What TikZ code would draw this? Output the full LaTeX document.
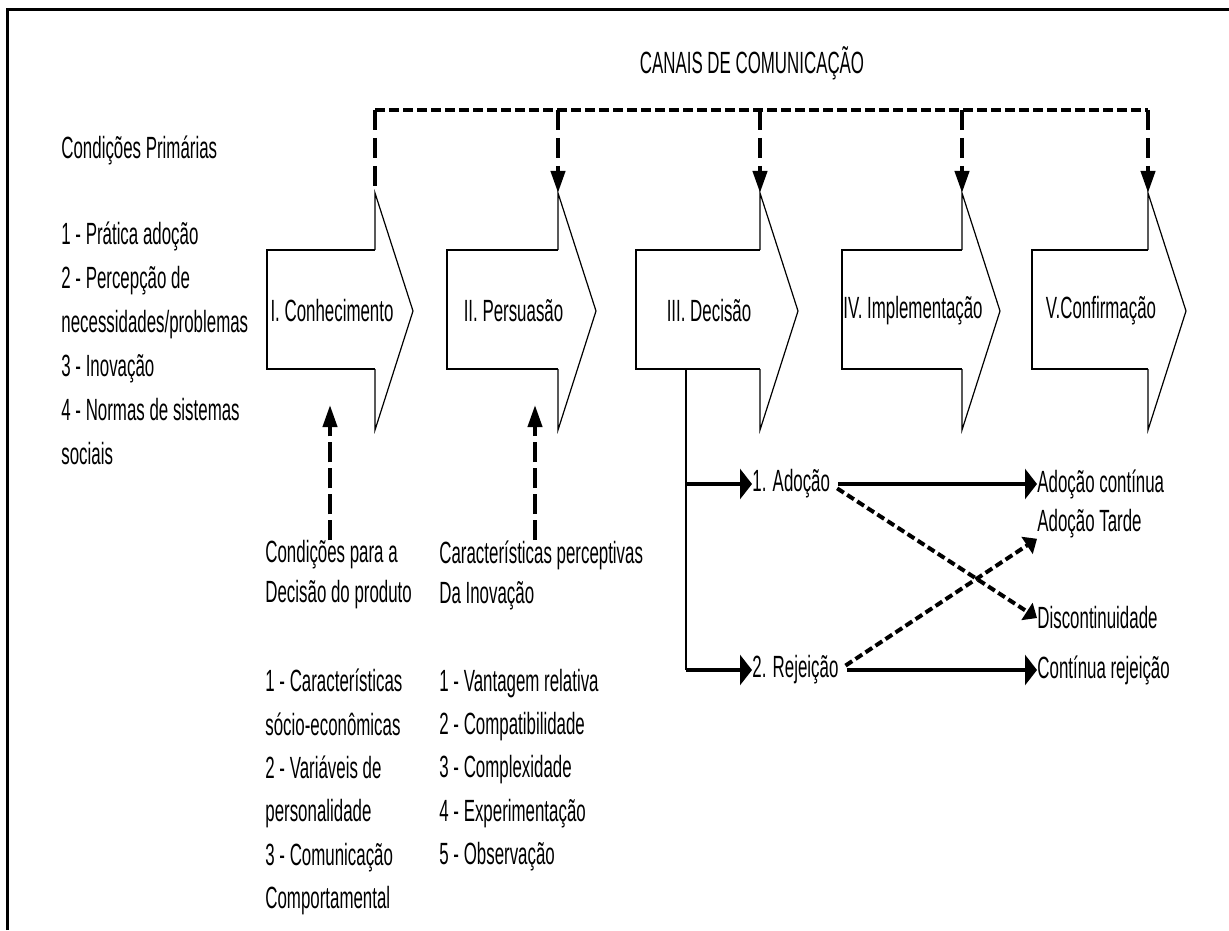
\documentclass[tikz,border=0pt]{standalone}
\usepackage{fontspec}
\setmainfont[FakeStretch=0.55]{Liberation Sans}
\usetikzlibrary{arrows.meta}

\begin{document}
\begin{tikzpicture}[x=0.5pt,y=-0.5pt,
    font=\fontsize{15.35}{21.7}\selectfont,
    txt/.style={inner sep=0pt,anchor=west,align=left},
    body/.style={line width=1pt},
    head/.style={line width=0.6pt},
    chan/.style={line width=2pt,dash pattern=on 5pt off 2pt},
    drop/.style={line width=2pt,dash pattern=on 10pt off 4pt},
    vtip/.style={-{Triangle[length=11pt,width=7pt]}},
    htip/.style={-{Triangle[length=6pt,width=15pt]}},
    infl/.style={line width=2pt,dash pattern=on 10pt off 3pt,vtip},
    flow/.style={line width=2.4pt,htip},
    cross/.style={line width=2pt,dash pattern=on 4pt off 2pt,
      -{Triangle[length=6pt,width=10pt]}}]
  \useasboundingbox (0,0) rectangle (1229,930);
  \draw[line width=1.5pt] (7,930) -- (7,10) -- (1229,10);

  % canais de comunicacao
  \node (canais) at (752,63) {CANAIS DE COMUNICAÇÃO};
  \coordinate (chan) at (752,110);

  % etapas
  \foreach \i/\xl/\xr/\lab in {1/267/375/{I. Conhecimento},
      2/447/558/{II. Persuasão},3/636/760/{III. Decisão},
      4/842/962/{IV. Implementação},5/1032/1148/{V.Confirmação}} {
    \draw[body] (\xr,250) -- (\xl,250) -- (\xl,369) -- (\xr,369);
    \draw[head] (\xr,250) -- (\xr,193) -- (\xr+38,311) -- (\xr,430) -- (\xr,369);
    \node (s\i) at ({(\xl+\xr+38)/2-8},311) {\lab};
    \coordinate (top\i) at (\xr,193);
  }

  \draw[chan] (top1 |- chan) -- (top5 |- chan);
  \draw[drop] (top1 |- chan) -- (top1);
  \foreach \i in {2,...,5}
    \draw[drop,vtip] (top\i |- chan) -- (top\i);

  % condicoes primarias
  \node[txt] (primt) at (61,150) {Condições Primárias};
  \node[txt,font=\fontsize{15.35}{22}\selectfont] (prim) at (61,343)
    {1 - Prática adoção\\2 - Percepção de\\necessidades/problemas\\3 - Inovação\\
     4 - Normas de sistemas\\sociais};

  % conhecimento e persuasao
  \node[txt,font=\fontsize{15.35}{20}\selectfont] (cond) at (265,575)
    {Condições para a\\Decisão do produto};
  \node[txt,font=\fontsize{15.35}{20}\selectfont] (carac) at (439,575)
    {Características perceptivas\\Da Inovação};
  \coordinate (in1) at (330,405);
  \coordinate (in2) at (535,405);
  \draw[infl] (cond.north -| in1) -- (in1);
  \draw[infl] (carac.north -| in2) -- (in2);

  \node[txt] (fat) at (265,792)
    {1 - Características\\sócio-econômicas\\2 - Variáveis de\\personalidade\\
     3 - Comunicação\\Comportamental};
  \node[txt] (atr) at (439,770)
    {1 - Vantagem relativa\\2 - Compatibilidade\\3 - Complexidade\\
     4 - Experimentação\\5 - Observação};

  % decisao
  \coordinate (dec) at (686,369);
  \node[txt] (ado) at (752,484) {1. Adoção};
  \node[txt] (rej) at (752,670) {2. Rejeição};
  \draw[line width=0.8pt] (dec) -- (dec |- rej.west);
  \draw[flow] (dec |- ado.west) -- (ado.west);
  \draw[flow] (dec |- rej.west) -- (rej.west);

  \node[txt] (cont) at (1037,484) {Adoção contínua};
  \node[txt] (tarde) at (1037,524) {Adoção Tarde};
  \node[txt] (disc) at (1037,618) {Discontinuidade};
  \node[txt] (crej) at (1037,670) {Contínua rejeição};
  \draw[flow,shorten <=4pt] (ado.east) -- (cont.west);
  \draw[flow,shorten <=4pt] (rej.east) -- (crej.west);
  \draw[cross,shorten <=4pt] (ado.east) -- (disc.west);
  \draw[cross,shorten <=4pt] (rej.east) -- (tarde.south west);
\end{tikzpicture}
\end{document}
